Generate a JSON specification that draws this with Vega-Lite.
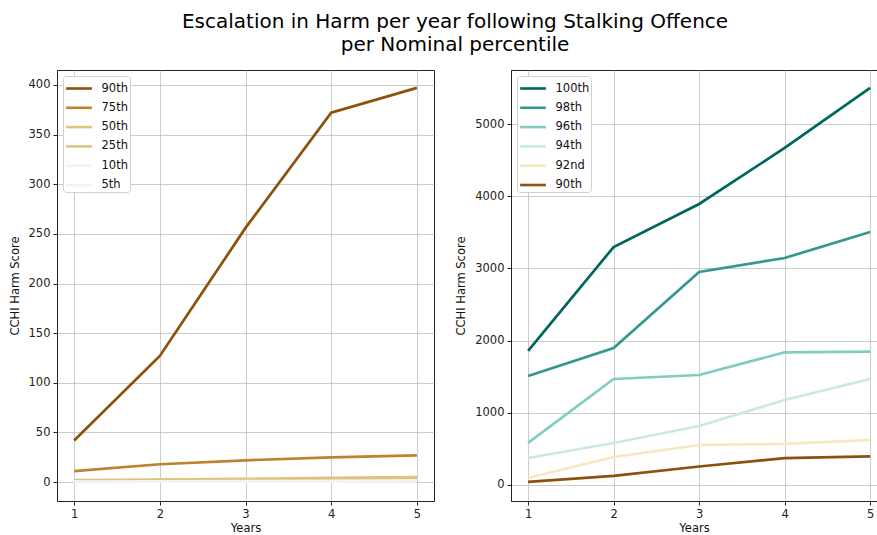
{
  "$schema": "https://vega.github.io/schema/vega-lite/v6.json",
  "padding": {"left": 8, "top": 11, "right": 0, "bottom": 3},
  "background": "white",
  "title": {
    "text": ["Escalation in Harm per year following Stalking Offence", "per Nominal percentile"],
    "font": "DejaVu Sans",
    "fontSize": 20,
    "fontWeight": "normal",
    "color": "#000",
    "anchor": "middle",
    "dx": 12,
    "lineHeight": 23,
    "offset": 15
  },
  "config": {
    "font": "DejaVu Sans",
    "view": {"stroke": "#222", "strokeWidth": 1},
    "axis": {
      "labelFont": "DejaVu Sans",
      "labelFontSize": 11.5,
      "labelColor": "#222",
      "titleFont": "DejaVu Sans",
      "titleFontSize": 11.5,
      "titleFontWeight": "normal",
      "titleColor": "#111",
      "domainColor": "#222",
      "tickColor": "#222",
      "tickSize": 4,
      "labelPadding": 3,
      "gridColor": "#b0b0b0",
      "gridWidth": 0.8,
      "gridOpacity": 0.8
    },
    "legend": {
      "labelFont": "DejaVu Sans",
      "labelFontSize": 11.5,
      "labelColor": "#111",
      "symbolType": "M-1,0L1.75,0",
      "symbolStrokeWidth": 2.6,
      "symbolSize": 350,
      "labelOffset": 15,
      "strokeColor": "#d0d0d0",
      "fillColor": "white",
      "cornerRadius": 3,
      "padding": 1.5,
      "rowPadding": 2.3,
      "offset": 5.5,
      "title": null
    }
  },
  "datasets": {
    "left": [
      {"pct": "90th", "year": 1, "value": 42}, {"pct": "90th", "year": 2, "value": 127}, {"pct": "90th", "year": 3, "value": 256}, {"pct": "90th", "year": 4, "value": 372}, {"pct": "90th", "year": 5, "value": 397},
      {"pct": "75th", "year": 1, "value": 11}, {"pct": "75th", "year": 2, "value": 18}, {"pct": "75th", "year": 3, "value": 22}, {"pct": "75th", "year": 4, "value": 25}, {"pct": "75th", "year": 5, "value": 27},
      {"pct": "50th", "year": 1, "value": 2}, {"pct": "50th", "year": 2, "value": 2.5}, {"pct": "50th", "year": 3, "value": 3.2}, {"pct": "50th", "year": 4, "value": 4.2}, {"pct": "50th", "year": 5, "value": 5},
      {"pct": "25th", "year": 1, "value": 1.5}, {"pct": "25th", "year": 2, "value": 2}, {"pct": "25th", "year": 3, "value": 2.8}, {"pct": "25th", "year": 4, "value": 3.6}, {"pct": "25th", "year": 5, "value": 4.3},
      {"pct": "10th", "year": 1, "value": 0.6}, {"pct": "10th", "year": 2, "value": 0.8}, {"pct": "10th", "year": 3, "value": 1}, {"pct": "10th", "year": 4, "value": 1.2}, {"pct": "10th", "year": 5, "value": 1.4},
      {"pct": "5th", "year": 1, "value": 0.3}, {"pct": "5th", "year": 2, "value": 0.4}, {"pct": "5th", "year": 3, "value": 0.5}, {"pct": "5th", "year": 4, "value": 0.6}, {"pct": "5th", "year": 5, "value": 0.7}
    ],
    "right": [
      {"pct": "100th", "year": 1, "value": 1856}, {"pct": "100th", "year": 2, "value": 3296}, {"pct": "100th", "year": 3, "value": 3892}, {"pct": "100th", "year": 4, "value": 4668}, {"pct": "100th", "year": 5, "value": 5499},
      {"pct": "98th", "year": 1, "value": 1510}, {"pct": "98th", "year": 2, "value": 1898}, {"pct": "98th", "year": 3, "value": 2950}, {"pct": "98th", "year": 4, "value": 3144}, {"pct": "98th", "year": 5, "value": 3504},
      {"pct": "96th", "year": 1, "value": 582}, {"pct": "96th", "year": 2, "value": 1468}, {"pct": "96th", "year": 3, "value": 1523}, {"pct": "96th", "year": 4, "value": 1838}, {"pct": "96th", "year": 5, "value": 1848},
      {"pct": "94th", "year": 1, "value": 374}, {"pct": "94th", "year": 2, "value": 582}, {"pct": "94th", "year": 3, "value": 817}, {"pct": "94th", "year": 4, "value": 1177}, {"pct": "94th", "year": 5, "value": 1468},
      {"pct": "92nd", "year": 1, "value": 97}, {"pct": "92nd", "year": 2, "value": 388}, {"pct": "92nd", "year": 3, "value": 554}, {"pct": "92nd", "year": 4, "value": 568}, {"pct": "92nd", "year": 5, "value": 623},
      {"pct": "90th", "year": 1, "value": 42}, {"pct": "90th", "year": 2, "value": 127}, {"pct": "90th", "year": 3, "value": 256}, {"pct": "90th", "year": 4, "value": 372}, {"pct": "90th", "year": 5, "value": 397}
    ]
  },
  "hconcat": [
    {
      "width": 377,
      "height": 431,
      "data": {"name": "left"},
      "mark": {"type": "line", "strokeWidth": 2.7, "clip": true},
      "encoding": {
        "x": {"field": "year", "type": "quantitative", "title": "Years",
              "scale": {"domain": [0.8, 5.2], "nice": false, "zero": false},
              "axis": {"values": [1, 2, 3, 4, 5], "format": "d", "titlePadding": 3}},
        "y": {"field": "value", "type": "quantitative", "title": "CCHI Harm Score",
              "scale": {"domain": [-19, 415], "nice": false, "zero": false},
              "axis": {"values": [0, 50, 100, 150, 200, 250, 300, 350, 400], "titlePadding": 8}},
        "color": {"field": "pct", "type": "nominal",
                  "scale": {"domain": ["90th", "75th", "50th", "25th", "10th", "5th"],
                            "range": ["#8c510a", "#bf812d", "#e3c27a", "#dfc27d", "#f3f3f3", "#f3f3f3"]},
                  "legend": {"orient": "top-left"}}
      }
    },
    {
      "width": 366,
      "height": 431,
      "data": {"name": "right"},
      "mark": {"type": "line", "strokeWidth": 2.7, "clip": true},
      "encoding": {
        "x": {"field": "year", "type": "quantitative", "title": "Years",
              "scale": {"domain": [0.8, 5.08], "nice": false, "zero": false},
              "axis": {"values": [1, 2, 3, 4, 5], "format": "d", "titlePadding": 3}},
        "y": {"field": "value", "type": "quantitative", "title": "CCHI Harm Score",
              "scale": {"domain": [-222, 5748], "nice": false, "zero": false},
              "axis": {"values": [0, 1000, 2000, 3000, 4000, 5000], "format": "d", "titlePadding": 8}},
        "color": {"field": "pct", "type": "nominal",
                  "scale": {"domain": ["100th", "98th", "96th", "94th", "92nd", "90th"],
                            "range": ["#01665e", "#35978f", "#80cdc1", "#c7eae5", "#f6e8c3", "#8c510a"]},
                  "legend": {"orient": "top-left"}}
      }
    }
  ],
  "resolve": {"scale": {"color": "independent"}},
  "spacing": 20
}
